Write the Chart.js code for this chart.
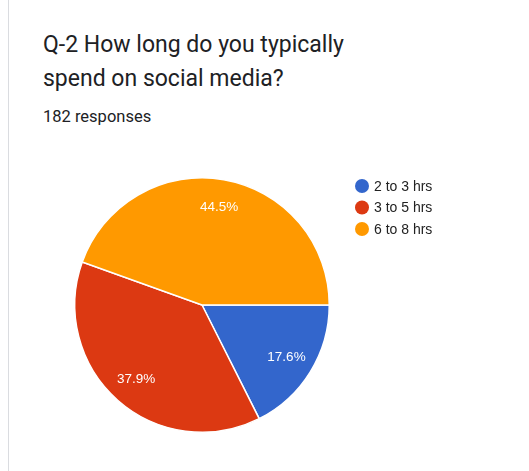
<!DOCTYPE html>
<html>
<head>
<meta charset="utf-8">
<script src="https://cdn.jsdelivr.net/npm/chart.js@4/dist/chart.umd.min.js"></script>
<style>
  html, body { margin: 0; padding: 0; background: #fff; }
  body { width: 529px; height: 471px; position: relative; overflow: hidden; font-family: Roboto, Arial, sans-serif; }
  .card { position: absolute; left: 8px; top: 0; width: 521px; height: 471px; border-left: 1px solid #dadce0; }
  .title { position: absolute; left: 43px; top: 28px; font-size: 23px; line-height: 34px; color: #202124; white-space: nowrap; }
  .sub { position: absolute; left: 43px; top: 107px; font-size: 16.5px; color: #202124; white-space: nowrap; }
  #wrap { position: absolute; left: 0; top: 160px; width: 529px; height: 311px; }
</style>
</head>
<body>
<div class="card"></div>
<div class="title">Q-2 How long do you typically<br>spend on social media?</div>
<div class="sub">182 responses</div>
<div id="wrap"><canvas id="chart-1" width="529" height="311"></canvas></div>
<script>
const categories = ["2 to 3 hrs", "3 to 5 hrs", "6 to 8 hrs"];
const responses = [32, 69, 81];
const colors = ["#3366cc", "#dc3912", "#ff9900"];

const total = responses.reduce((a, b) => a + b, 0);

// percentage text inside each slice + the side legend
const sliceLabels = {
  id: "sliceLabels",
  afterDatasetsDraw(chart) {
    const ctx = chart.ctx;
    const arcs = chart.getDatasetMeta(0).data;
    ctx.save();
    ctx.font = "13.5px Arial, 'Liberation Sans', sans-serif";
    ctx.fillStyle = "#fff";
    ctx.textAlign = "center";
    ctx.textBaseline = "middle";
    arcs.forEach((arc, i) => {
      const mid = (arc.startAngle + arc.endAngle) / 2;
      const r = arc.outerRadius * 0.78;
      const pct = (responses[i] / total * 100).toFixed(1) + "%";
      ctx.fillText(pct, arc.x + Math.cos(mid) * r, arc.y + Math.sin(mid) * r);
    });

    // legend
    ctx.textAlign = "left";
    ctx.font = "14px Arial, 'Liberation Sans', sans-serif";
    categories.forEach((c, i) => {
      const y = 26 + i * 21.5;
      ctx.beginPath();
      ctx.arc(362, y, 7, 0, Math.PI * 2);
      ctx.fillStyle = colors[i];
      ctx.fill();
      ctx.fillStyle = "#222";
      ctx.fillText(c, 374, y + 1);
    });
    ctx.restore();
  }
};

const ctx1 = document.getElementById("chart-1").getContext("2d");
const myChart = new Chart(ctx1, {
  type: "pie",
  data: {
    labels: categories,
    datasets: [
      {
        data: responses,
        backgroundColor: colors,
        borderColor: "#fff",
        borderWidth: 1.5,
      },
    ],
  },
  options: {
    responsive: false,
    animation: false,
    rotation: 90,
    layout: { padding: { left: 74, right: 199, top: 17, bottom: 38 } },
    plugins: {
      legend: { display: false },
      tooltip: { enabled: false },
    },
  },
  plugins: [sliceLabels],
});
</script>
</body>
</html>
